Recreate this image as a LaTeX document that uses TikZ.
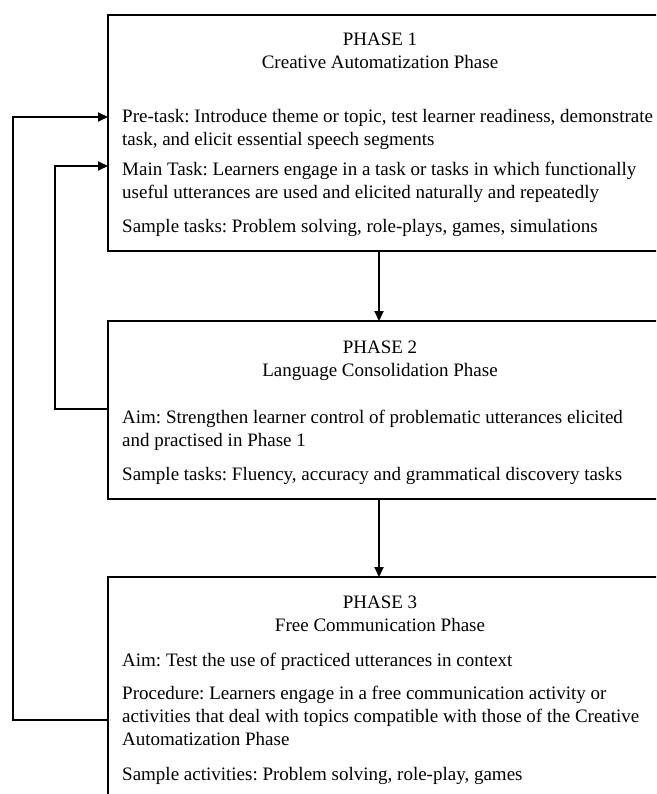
\documentclass[tikz,border=0pt]{standalone}
\usepackage{fontspec}
\setmainfont{Liberation Serif}
\usetikzlibrary{arrows.meta}
\frenchspacing
\begin{document}
\begin{tikzpicture}[x=1pt,y=-1pt,
  box/.style={draw, line width=1.9pt, minimum width=570pt, anchor=north west, inner sep=0pt, outer sep=0pt},
  txt/.style={anchor=base west, inner sep=0pt, font=\fontsize{19}{23}\selectfont},
  hd/.style={anchor=base, inner sep=0pt, font=\fontsize{19}{23}\selectfont},
  conn/.style={line width=1.9pt},
  arr/.style={conn, -{Triangle[length=10pt,width=9pt]}}]
\useasboundingbox (0,0) rectangle (656,794);
\clip (0,0) rectangle (656,794);
% boxes
\node[box, minimum height=236pt] (b1) at (108,15) {};
\node[box, minimum height=178pt] (b2) at (108,321) {};
\node[box, minimum height=260pt] (b3) at (108,577) {};
% box 1 text
\node[hd] (h1a) at (380,46) {PHASE 1};
\node[hd] (h1b) at (380,69) {Creative Automatization Phase};
\node[txt] (t1a) at (122,123) {Pre-task: Introduce theme or topic, test learner readiness, demonstrate};
\node[txt] (t1b) at (122,146) {task, and elicit essential speech segments};
\node[txt] (t1c) at (122,176) {Main Task: Learners engage in a task or tasks in which functionally};
\node[txt] (t1d) at (122,199) {useful utterances are used and elicited naturally and repeatedly};
\node[txt] (t1e) at (122,233) {Sample tasks: Problem solving, role-plays, games, simulations};
% box 2 text
\node[hd] (h2a) at (380,353) {PHASE 2};
\node[hd] (h2b) at (380,376) {Language Consolidation Phase};
\node[txt] (t2a) at (122,423) {Aim: Strengthen learner control of problematic utterances elicited};
\node[txt] (t2b) at (122,446) {and practised in Phase 1};
\node[txt] (t2c) at (122,480) {Sample tasks: Fluency, accuracy and grammatical discovery tasks};
% box 3 text
\node[hd] (h3a) at (380,608) {PHASE 3};
\node[hd] (h3b) at (380,631) {Free Communication Phase};
\node[txt] (t3a) at (122,666) {Aim: Test the use of practiced utterances in context};
\node[txt] (t3b) at (122,699) {Procedure: Learners engage in a free communication activity or};
\node[txt] (t3c) at (122,722) {activities that deal with topics compatible with those of the Creative};
\node[txt] (t3d) at (122,745) {Automatization Phase};
\node[txt] (t3e) at (122,780) {Sample activities: Problem solving, role-play, games};
% connectors
\coordinate (cx) at (379,0);
\coordinate (L1) at (13,0);
\coordinate (L2) at (55,0);
\coordinate (y1) at (0,117);
\coordinate (y2) at (0,166);
\coordinate (y3) at (0,409);
\coordinate (y4) at (0,720);
\draw[arr] (b1.south -| cx) -- (b2.north -| cx);
\draw[arr] (b2.south -| cx) -- (b3.north -| cx);
\draw[arr] (b3.west |- y4) -- (L1 |- y4) -- (L1 |- y1) -- (b1.west |- y1);
\draw[arr] (b2.west |- y3) -- (L2 |- y3) -- (L2 |- y2) -- (b1.west |- y2);
\end{tikzpicture}
\end{document}
